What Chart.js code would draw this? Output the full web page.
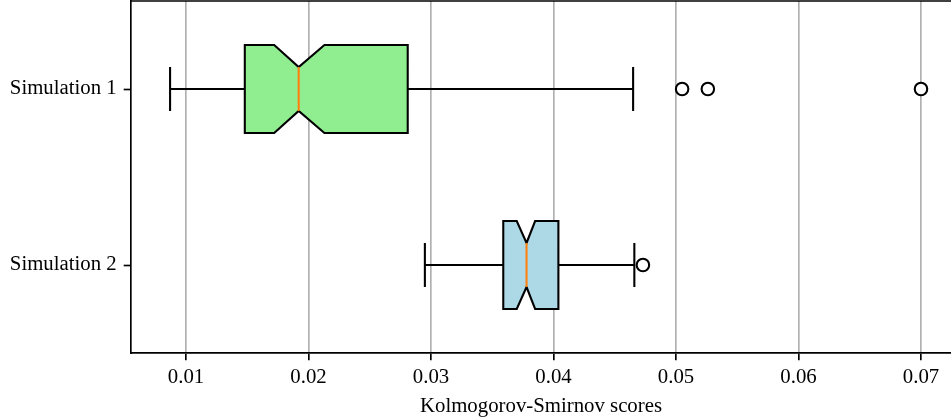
<!DOCTYPE html>
<html>
<head>
<meta charset="utf-8">
<script src="https://cdn.jsdelivr.net/npm/chart.js@4/dist/chart.umd.min.js"></script>
<style>
  html, body { margin: 0; padding: 0; background: #fff; overflow: hidden; }
  #wrap { width: 951px; height: 419px; }
</style>
</head>
<body>
<div id="wrap"><canvas id="boxChart" width="951" height="419"></canvas></div>
<script>
// Datos de las dos simulaciones
const categories = ['Simulation 1', 'Simulation 2'];
const whiskerLow = [0.0087, 0.0295];
const q1 = [0.0148, 0.0359];
const median = [0.0192, 0.0378];
const q3 = [0.0281, 0.0404];
const notchLow = [0.0172, 0.0370];
const notchHigh = [0.0213, 0.0385];
const whiskerHigh = [0.0465, 0.0466];
const fliers = [[0.0505, 0.0526, 0.0700], [0.0473]];
const xTicks = [0.01, 0.02, 0.03, 0.04, 0.05, 0.06, 0.07];
const boxColors = ['#90ee90', '#add8e6'];

const LW = 2.08;
Chart.defaults.font.family = "'Liberation Serif', 'Times New Roman', serif";
Chart.defaults.font.size = 20.8;
Chart.defaults.color = '#000';

// Puntos atípicos como dataset de dispersión
const flierPoints = [];
fliers.forEach((list, i) => list.forEach(v => flierPoints.push({ x: v, y: categories[i] })));

// Plugin que dibuja las cajas con muesca, bigotes y medianas usando las escalas
const boxPlugin = {
    id: 'notchedBoxes',
    beforeDatasetsDraw(chart) {
        const ctx = chart.ctx;
        const xs = chart.scales.x;
        const ys = chart.scales.y;
        const unit = ys.getPixelForValue(1) - ys.getPixelForValue(0);
        const half = unit * 0.25;   // ancho de caja 0.5
        const cap = half * 0.5;
        ctx.save();
        categories.forEach((c, i) => {
            const cy = ys.getPixelForValue(i);
            const px = v => xs.getPixelForValue(v);
            ctx.lineWidth = LW;
            ctx.strokeStyle = '#000';
            ctx.lineJoin = 'miter';
            // bigotes
            ctx.beginPath();
            ctx.moveTo(px(q1[i]), cy); ctx.lineTo(px(whiskerLow[i]), cy);
            ctx.moveTo(px(q3[i]), cy); ctx.lineTo(px(whiskerHigh[i]), cy);
            ctx.moveTo(px(whiskerLow[i]), cy - cap); ctx.lineTo(px(whiskerLow[i]), cy + cap);
            ctx.moveTo(px(whiskerHigh[i]), cy - cap); ctx.lineTo(px(whiskerHigh[i]), cy + cap);
            ctx.stroke();
            // caja con muesca
            ctx.beginPath();
            ctx.moveTo(px(q1[i]), cy - half);
            ctx.lineTo(px(notchLow[i]), cy - half);
            ctx.lineTo(px(median[i]), cy - cap);
            ctx.lineTo(px(notchHigh[i]), cy - half);
            ctx.lineTo(px(q3[i]), cy - half);
            ctx.lineTo(px(q3[i]), cy + half);
            ctx.lineTo(px(notchHigh[i]), cy + half);
            ctx.lineTo(px(median[i]), cy + cap);
            ctx.lineTo(px(notchLow[i]), cy + half);
            ctx.lineTo(px(q1[i]), cy + half);
            ctx.closePath();
            ctx.fillStyle = boxColors[i];
            ctx.fill();
            ctx.stroke();
            // mediana
            ctx.beginPath();
            ctx.strokeStyle = '#ff7f0e';
            ctx.moveTo(px(median[i]), cy - cap);
            ctx.lineTo(px(median[i]), cy + cap);
            ctx.stroke();
        });
        // borde superior del área
        ctx.beginPath();
        ctx.strokeStyle = '#000';
        ctx.lineWidth = 1.67;
        ctx.moveTo(chart.chartArea.left, chart.chartArea.top);
        ctx.lineTo(chart.chartArea.right, chart.chartArea.top);
        ctx.stroke();
        ctx.restore();
    }
};

const ctxBox = document.getElementById('boxChart').getContext('2d');
const boxChart = new Chart(ctxBox, {
    type: 'scatter',
    data: {
        datasets: [{
            data: flierPoints,
            pointStyle: 'circle',
            pointRadius: 6.25,
            pointBorderWidth: LW,
            pointBorderColor: '#000',
            pointBackgroundColor: '#fff'
        }]
    },
    options: {
        responsive: false,
        animation: false,
        layout: { autoPadding: false, padding: { top: 1, right: 0, bottom: 0, left: 0 } },
        plugins: { legend: { display: false }, tooltip: { enabled: false } },
        scales: {
            x: {
                type: 'linear',
                min: 0.00551,
                max: 0.07245,
                afterBuildTicks: s => { s.ticks = xTicks.map(v => ({ value: v })); },
                afterFit: s => {
                    s.height = 66;
                    s.paddingLeft = 0;
                    s.paddingRight = 0;
                },
                ticks: {
                    padding: 5,
                    callback: v => v.toFixed(2)
                },
                grid: {
                    color: '#b0b0b0',
                    lineWidth: 1.67,
                    tickColor: '#000',
                    tickWidth: 1.67,
                    tickLength: 7.3
                },
                border: { display: true, color: '#000', width: 1.67 },
                title: {
                    display: true,
                    text: 'Kolmogorov-Smirnov scores',
                    padding: { top: 0, bottom: 0 }
                }
            },
            y: {
                type: 'category',
                labels: categories,
                offset: true,
                afterFit: s => {
                    s.width = 131;
                    s.paddingTop = 0;
                    s.paddingBottom = 0;
                },
                ticks: { padding: 7 },
                grid: {
                    drawOnChartArea: false,
                    offset: false,
                    tickColor: '#000',
                    tickWidth: 1.67,
                    tickLength: 7.3
                },
                border: { display: true, color: '#000', width: 1.67 }
            }
        }
    },
    plugins: [boxPlugin]
});
</script>
</body>
</html>
